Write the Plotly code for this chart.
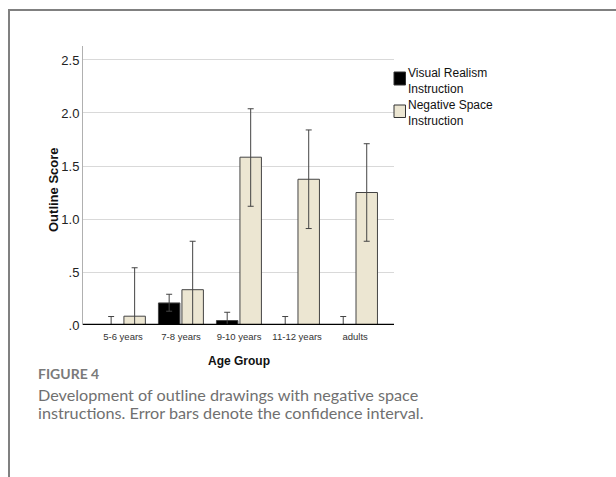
import plotly.graph_objects as go

# Outline scores by age group and instruction condition, with confidence intervals
age_groups = ["5-6 years", "7-8 years", "9-10 years", "11-12 years", "adults"]

visual_mean = [0.0, 0.208, 0.042, 0.0, 0.0]
visual_upper = [0.08, 0.29, 0.12, 0.08, 0.08]
visual_lower = [-0.08, 0.13, -0.04, -0.08, -0.08]

negative_mean = [0.083, 0.333, 1.583, 1.375, 1.25]
negative_upper = [0.54, 0.79, 2.04, 1.84, 1.71]
negative_lower = [-0.37, -0.13, 1.12, 0.91, 0.79]

y_tick_vals = [0.0, 0.5, 1.0, 1.5, 2.0, 2.5]
y_tick_text = [".0", ".5", "1.0", "1.5", "2.0", "2.5"]

W, H = 616, 477
L, R, T, B = 83, 222, 46, 152
PW, PH = W - L - R, H - T - B


def px(x):
    return (x - L) / PW


def py(y):
    return (H - B - y) / PH


BAR_EDGE = "#444444"
BEIGE = "#ece6d2"
FONT = "Liberation Sans, Arial, sans-serif"
CAPTION_FONT = "Lato, sans-serif"

fig = go.Figure()

fig.add_trace(go.Bar(
    x=list(range(len(age_groups))), y=visual_mean,
    width=0.37, offset=-0.39,
    marker=dict(color="#000000", line=dict(color=BAR_EDGE, width=1)),
    error_y=dict(type="data", symmetric=False,
                 array=[u - m for u, m in zip(visual_upper, visual_mean)],
                 arrayminus=[m - l for m, l in zip(visual_mean, visual_lower)],
                 color="#444444", thickness=1, width=3),
    name="Visual Realism Instruction", showlegend=False,
))
fig.add_trace(go.Bar(
    x=list(range(len(age_groups))), y=negative_mean,
    width=0.37, offset=0.015,
    marker=dict(color=BEIGE, line=dict(color=BAR_EDGE, width=1)),
    error_y=dict(type="data", symmetric=False,
                 array=[u - m for u, m in zip(negative_upper, negative_mean)],
                 arrayminus=[m - l for m, l in zip(negative_mean, negative_lower)],
                 color="#444444", thickness=1, width=3),
    name="Negative Space Instruction", showlegend=False,
))

shapes = [
    # card frame
    dict(type="rect", xref="paper", yref="paper",
         x0=px(9), x1=px(640), y0=py(10), y1=py(500),
         line=dict(color="#808080", width=2), fillcolor="rgba(0,0,0,0)", layer="below"),
    # baseline at zero
    dict(type="line", xref="paper", yref="y", x0=0, x1=1, y0=0, y1=0,
         line=dict(color="#000000", width=2.5)),
    # legend swatches
    dict(type="rect", xref="paper", yref="paper",
         x0=px(394), x1=px(405.5), y0=py(72), y1=py(85),
         line=dict(color="#333333", width=1), fillcolor="#000000"),
    dict(type="rect", xref="paper", yref="paper",
         x0=px(394), x1=px(405.5), y0=py(105), y1=py(117.5),
         line=dict(color="#333333", width=1), fillcolor=BEIGE),
]


def label(text, x, y, size, family=FONT, color="#111111", xanchor="left", angle=0):
    return dict(text=text, xref="paper", yref="paper", x=px(x), y=py(y),
                xanchor=xanchor, yanchor="middle", align="left", textangle=angle,
                showarrow=False, font=dict(family=family, size=size, color=color))


annotations = [
    dict(text="Visual Realism<br>Instruction", xref="paper", yref="paper",
         x=px(406), y=py(80.5), xanchor="left", yanchor="middle", align="left",
         showarrow=False, font=dict(family=FONT, size=12, color="#111111")),
    dict(text="Negative Space<br>Instruction", xref="paper", yref="paper",
         x=px(406), y=py(113), xanchor="left", yanchor="middle", align="left",
         showarrow=False, font=dict(family=FONT, size=12, color="#111111")),
    label("<b>Outline Score</b>", 53, 190, 13, xanchor="center", angle=-90),
    label("<b>Age Group</b>", 239, 361, 12, xanchor="center"),
    label("<b>FIGURE 4</b>", 36, 373, 14, family=CAPTION_FONT, color="#7a7a7a"),
    label("Development of outline drawings with negative space", 36, 394, 16.2,
          family=CAPTION_FONT, color="#707070"),
    label("instructions. Error bars denote the confidence interval.", 36, 413, 16.2,
          family=CAPTION_FONT, color="#707070"),
]

fig.update_layout(
    width=W, height=H,
    margin=dict(l=L, r=R, t=T, b=B, pad=0),
    paper_bgcolor="white", plot_bgcolor="white",
    showlegend=False,
    shapes=shapes, annotations=annotations,
    xaxis=dict(
        range=[-0.69, 4.67], tickmode="array",
        tickvals=list(range(len(age_groups))), ticktext=age_groups,
        showgrid=False, zeroline=False, showline=False, ticks="",
        ticklabelstandoff=4,
        tickfont=dict(family=FONT, size=9.5, color="#333333"),
    ),
    yaxis=dict(
        range=[0, 2.632], tickmode="array",
        tickvals=y_tick_vals, ticktext=y_tick_text,
        showgrid=True, gridcolor="#d9d9d9", gridwidth=1,
        zeroline=False, showline=True, linecolor="#b0b0b0", linewidth=1,
        ticks="", ticklabelstandoff=0,
        tickfont=dict(family=FONT, size=13, color="#222222"),
    ),
)

fig.write_html("out.html")
